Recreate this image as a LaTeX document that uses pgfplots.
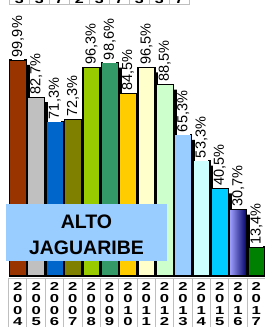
\documentclass[border=0pt]{standalone}
\usepackage{fontspec}
\setmainfont{Liberation Sans}
\usepackage{pgfplots}
\pgfplotsset{compat=1.18}
\definecolor{c1}{HTML}{993300}
\definecolor{c2}{HTML}{C0C0C0}
\definecolor{c3}{HTML}{0066CC}
\definecolor{c4}{HTML}{808000}
\definecolor{c5}{HTML}{99CC00}
\definecolor{c6}{HTML}{339966}
\definecolor{c7}{HTML}{FFCC00}
\definecolor{c8}{HTML}{FFFFCC}
\definecolor{c9}{HTML}{CCFFCC}
\definecolor{c10}{HTML}{99CCFF}
\definecolor{c11}{HTML}{CCFFFF}
\definecolor{c12}{HTML}{00CCFF}
\definecolor{c13a}{HTML}{A0A0FF}
\definecolor{c13b}{HTML}{000066}
\definecolor{c14}{HTML}{008000}
\definecolor{boxblue}{HTML}{99CCFF}
\definecolor{cellgray}{HTML}{BFBFBF}
\pgfplotsset{mybar/.style={ybar, bar width=0.926, bar shift=0pt, draw=black, line width=1.2bp}}
\begin{document}
\begin{tikzpicture}
\begin{axis}[width=265bp,height=327bp,scale only axis,at={(0,0)},anchor=south west,
  xmin=-0.981,xmax=13.46,ymin=-23.58,ymax=127.6,axis lines=none,
  /pgf/number format/assume math mode=true]
% shadows
\addplot[ybar, bar width=0.926, bar shift=0pt, fill=black, draw=none, xshift=5bp, yshift=-5bp]
  coordinates {(0,99.9) (1,82.7) (2,71.3) (3,72.3) (4,96.3) (5,98.6) (6,84.5) (7,96.5) (8,88.5) (9,65.3) (10,53.3) (11,40.5) (12,30.7) (13,13.4)};
\addplot[mybar, fill=c1] coordinates {(0,99.9)};
\addplot[mybar, fill=c2] coordinates {(1,82.7)};
\addplot[mybar, fill=c3] coordinates {(2,71.3)};
\addplot[mybar, fill=c4] coordinates {(3,72.3)};
\addplot[mybar, fill=c5] coordinates {(4,96.3)};
\addplot[mybar, fill=c6] coordinates {(5,98.6)};
\addplot[mybar, fill=c7] coordinates {(6,84.5)};
\addplot[mybar, fill=c8] coordinates {(7,96.5)};
\addplot[mybar, fill=c9] coordinates {(8,88.5)};
\addplot[mybar, fill=c10] coordinates {(9,65.3)};
\addplot[mybar, fill=c11] coordinates {(10,53.3)};
\addplot[mybar, fill=c12] coordinates {(11,40.5)};
\addplot[mybar, left color=c13a, right color=c13b] coordinates {(12,30.7)};
\addplot[mybar, fill=c14] coordinates {(13,13.4)};
% labels
\addplot[draw=none, mark=none,
  nodes near coords={\pgfmathprintnumber[fixed,fixed zerofill,precision=1,use comma]{\pgfplotspointmeta}\%},
  every node near coord/.style={rotate=90, anchor=west, fill=white, inner xsep=2.5bp, inner ysep=0.5bp,
    font=\fontsize{14.5bp}{16bp}\selectfont, text=black}]
  coordinates {(0,99.9) (1,82.7) (2,71.3) (3,72.3) (4,96.3) (5,98.6) (6,84.5) (7,96.5) (8,88.5) (9,65.3) (10,53.3) (11,40.5) (12,30.7) (13,13.4)};
\end{axis}
% bottom category cells
\fill[white] (0,0) rectangle (265bp,50.2bp);
\draw[cellgray, line width=0.8bp] (8.5bp,48.7bp) -- (265bp,48.7bp);
\foreach \i in {0,...,14} {
  \draw[cellgray, line width=0.8bp] ({8.5+18.35*\i)*1bp},0) -- ({(8.5+18.35*\i)*1bp},48.7bp);
}
\foreach \y [count=\i from 0] in {4,5,6,7,8,9,10,11,12,13,14,15,16,17} {
  \pgfmathtruncatemacro{\a}{\y<10 ? 0 : 1}
  \pgfmathtruncatemacro{\b}{mod(\y,10)}
  \foreach \d/\yy in {2/36.3, 0/24.7, \a/13.0, \b/1.3} {
    \node[anchor=base, inner sep=0, xscale=1.45, font=\bfseries\fontsize{11.5bp}{12bp}\selectfont]
      at ({(17.8+18.35*\i)*1bp},\yy bp) {\d};
  }
}
% top strip
\begin{scope}
\clip (0,322.3bp) rectangle (265bp,327bp);
\foreach \d [count=\i from 0] in {3,3,7,2,3,7,3,3,7} {
  \node[anchor=base, inner sep=0, xscale=1.4, font=\bfseries\fontsize{11.5bp}{12bp}\selectfont]
    at ({(19.3+20*\i)*1bp},323.6bp) {\d};
}
\end{scope}
\draw[cellgray, line width=0.8bp] (9.3bp,322.3bp) -- (189.3bp,322.3bp);
\foreach \i in {0,...,9} {
  \draw[cellgray, line width=0.8bp] ({(9.3+20*\i)*1bp},322.3bp) -- ({(9.3+20*\i)*1bp},327bp);
}
% title box
\fill[boxblue] (6bp,66bp) rectangle (167bp,123bp);
\node[font=\bfseries\fontsize{19.5bp}{22bp}\selectfont] at (86.5bp,105.5bp) {ALTO};
\node[font=\bfseries\fontsize{19.5bp}{22bp}\selectfont] at (86.5bp,79.5bp) {JAGUARIBE};
\pgfresetboundingbox
\path (0,0) rectangle (265bp,327bp);
\end{tikzpicture}
\end{document}
